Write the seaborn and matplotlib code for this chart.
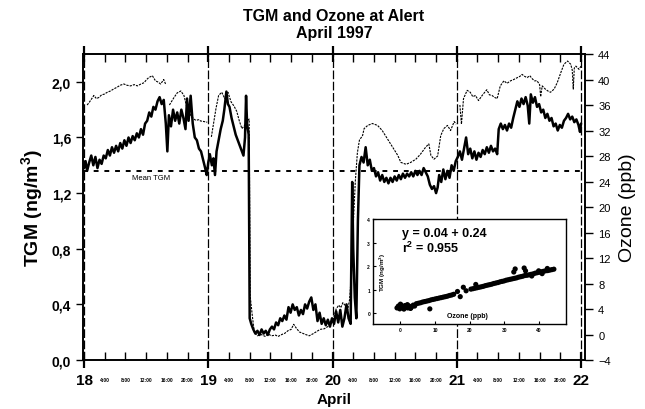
import numpy as np
import pandas as pd
import matplotlib
matplotlib.use("Agg")
import matplotlib.pyplot as plt
import seaborn as sns

# -------------------------------
# Data
# hours after 18 April 00:00
# -------------------------------
tgm_hours = [
    0.0, 0.3, 0.6, 1.0, 1.4, 1.8, 2.2, 2.6, 3.0, 3.4, 3.8, 4.2, 4.6, 5.0, 5.4, 5.8,
    6.2, 6.6, 7.0, 7.4, 7.8, 8.2, 8.6, 9.0, 9.4, 9.8, 10.2, 10.6, 11.0, 11.4, 11.8,
    12.2, 12.6, 13.0, 13.4, 13.8, 14.2, 14.6, 15.0, 15.4, 15.8, 16.1, 16.4, 16.8,
    17.2, 17.6, 18.0, 18.4, 18.8, 19.2, 19.6, 19.9, 20.2, 20.6, 21.0, 21.4, 21.8,
    22.2, 22.6, 23.0, 23.4, 23.7, 24.0, 24.3, 24.7, 25.0, 25.3, 25.6, 26.0, 26.4,
    26.8, 27.1, 27.5, 27.8, 28.1, 28.5, 28.9, 29.3, 29.7, 30.1, 30.5, 30.8, 31.1,
    31.3, 31.5, 31.8, 32.0, 32.3, 32.7, 33.1, 33.5, 33.9, 34.3, 34.7, 35.1, 35.5,
    35.9, 36.3, 36.7, 37.1, 37.5, 37.9, 38.3, 38.7, 39.1, 39.5, 39.9, 40.3, 40.7,
    41.1, 41.5, 41.9, 42.3, 42.7, 43.1, 43.5, 43.9, 44.3, 44.7, 45.1, 45.5, 45.9,
    46.3, 46.7, 47.1, 47.5, 47.9, 48.3, 48.7, 49.1, 49.5, 49.9, 50.3, 50.7, 51.1,
    51.5, 51.8, 52.0, 52.3, 52.6, 52.9, 53.2, 53.6, 54.0, 54.4, 54.8, 55.2, 55.6,
    56.0, 56.4, 56.8, 57.2, 57.6, 58.0, 58.4, 58.8, 59.2, 59.6, 60.0, 60.4, 60.8,
    61.2, 61.6, 62.0, 62.4, 62.8, 63.2, 63.6, 64.0, 64.4, 64.8, 65.2, 65.6, 66.0,
    66.4, 66.8, 67.2, 67.6, 68.0, 68.3, 68.6, 69.0, 69.4, 69.8, 70.2, 70.6, 71.0,
    71.4, 71.8, 72.2, 72.6, 73.0, 73.4, 73.8, 74.2, 74.6, 75.0, 75.4, 75.8, 76.2,
    76.6, 77.0, 77.4, 77.8, 78.2, 78.6, 79.0, 79.4, 79.8, 80.1, 80.5, 80.9, 81.3,
    81.7, 82.1, 82.5, 82.9, 83.3, 83.7, 84.1, 84.5, 84.9, 85.3, 85.7, 86.0, 86.3,
    86.7, 87.1, 87.5, 87.9, 88.3, 88.7, 89.1, 89.5, 89.9, 90.3, 90.7, 91.1, 91.5,
    91.9, 92.3, 92.7, 93.1, 93.5, 93.9, 94.3, 94.7, 95.1, 95.5, 95.8, 96.0,
]
tgm_values = [
    1.38, 1.43, 1.36, 1.42, 1.47, 1.40, 1.46, 1.38, 1.44, 1.41, 1.47, 1.45, 1.51, 1.47, 1.53, 1.49,
    1.54, 1.50, 1.56, 1.52, 1.58, 1.54, 1.60, 1.56, 1.61, 1.58, 1.63, 1.60, 1.66, 1.62, 1.70,
    1.72, 1.78, 1.75, 1.82, 1.80, 1.86, 1.89, 1.84, 1.87, 1.70, 1.50, 1.76, 1.68,
    1.80, 1.72, 1.78, 1.70, 1.80, 1.74, 1.66, 1.88, 1.72, 1.90, 1.70, 1.60, 1.58,
    1.52, 1.50, 1.44, 1.38, 1.33, 1.42, 1.48, 1.40, 1.45, 1.33, 1.50, 1.58, 1.66,
    1.72, 1.80, 1.93, 1.84, 1.82, 1.74, 1.68, 1.62, 1.58, 1.54, 1.50, 1.47, 1.60,
    1.90, 1.70, 1.62, 0.30, 0.26, 0.22, 0.19, 0.21, 0.18, 0.22, 0.19, 0.21, 0.18,
    0.22, 0.24, 0.22, 0.27, 0.25, 0.30, 0.28, 0.32, 0.29, 0.38, 0.34, 0.40, 0.36,
    0.38, 0.32, 0.36, 0.33, 0.40, 0.37, 0.42, 0.45, 0.36, 0.40, 0.28, 0.34, 0.26,
    0.30, 0.25, 0.29, 0.24, 0.30, 0.26, 0.35, 0.27, 0.36, 0.24, 0.30, 0.40, 0.30,
    0.26, 1.28, 0.80, 0.45, 0.30, 1.00, 1.40, 1.46, 1.42, 1.53, 1.40, 1.44, 1.36,
    1.38, 1.32, 1.35, 1.29, 1.33, 1.28, 1.31, 1.27, 1.31, 1.28, 1.32, 1.29, 1.33,
    1.30, 1.34, 1.31, 1.34, 1.32, 1.35, 1.32, 1.36, 1.33, 1.36, 1.33, 1.38, 1.35,
    1.32, 1.26, 1.23, 1.25, 1.20, 1.24, 1.33, 1.28, 1.37, 1.30, 1.36, 1.31, 1.40,
    1.36, 1.43, 1.46, 1.50, 1.44, 1.52, 1.60, 1.48, 1.52, 1.45, 1.50, 1.44, 1.49,
    1.46, 1.51, 1.48, 1.53, 1.49, 1.54, 1.50, 1.52, 1.48, 1.66, 1.70, 1.66, 1.69,
    1.65, 1.70, 1.67, 1.74, 1.80, 1.86, 1.82, 1.88, 1.84, 1.89, 1.83, 1.70, 1.91,
    1.85, 1.89, 1.82, 1.84, 1.78, 1.80, 1.74, 1.77, 1.72, 1.74, 1.68, 1.70, 1.65,
    1.69, 1.67, 1.72, 1.74, 1.77, 1.73, 1.75, 1.71, 1.73, 1.69, 1.64, 1.70,
]

nan = float("nan")
ozone_hours = [
    0.6, 1.0, 1.5, 1.9, 2.4, 2.9, 3.4, 3.9, 4.5, 5.1, 5.7, 6.4, 7.0, 7.7, 8.3, 9.0,
    9.7, 10.3, 11.0, 11.6, 12.1, 12.5, 13.2, 13.8, 14.3, 14.8, 15.4, 15.8, 16.1,
    16.5, 16.8, 17.4, 18.0, 18.7, 19.3, 19.9, 20.6, 21.2, 21.6, 22.2, 22.5, 23.2,
    23.8, 24.1, 24.6, 25.0, 25.5, 26.0, 26.6, 27.2, 27.8, 28.4, 29.0, 29.5, 30.0,
    30.5, 31.0, 31.5, 31.9, 32.1, 32.5, 32.9, 33.5, 34.2, 35.0, 35.5, 36.2, 37.0,
    37.5, 38.2, 38.8, 39.4, 40.0, 40.5, 41.0, 41.6, 42.2, 42.8, 43.5, 44.2, 45.0,
    45.6, 46.4, 47.0, 47.6, 48.2, 48.7, 49.2, 49.6, 50.0, 50.4, 50.9, 51.3, 51.7,
    52.0, 52.4, 52.8, 53.2, 53.8, 54.1, 54.8, 55.7, 56.7, 57.6, 58.6, 59.6, 60.6,
    61.2, 62.2, 63.1, 64.1, 65.0, 66.0, 66.6, 67.0, 67.6, 68.3, 68.9, 69.5, 70.2,
    70.8, 71.5, 71.9, 72.2, 72.6, 72.9, 73.3, 74.0, 74.6, 75.1, 75.6, 76.2, 76.9,
    77.3, 77.8, 78.3, 78.8, 79.3, 79.8, 80.4, 81.1, 81.7, 82.4, 83.0, 83.7, 84.2,
    84.6, 85.1, 85.6, 86.1, 86.6, 87.0, 87.5, 88.0, 88.2, 88.5, 89.1, 89.6, 90.1,
    90.8, 91.4, 92.1, 92.7, 93.4, 94.0, 94.3, 94.5, 94.7, 95.0, 95.6, 96.0,
]
ozone_values = [
    36.0, 36.4, 37.0, 37.5, 37.0, 37.2, 37.6, 37.7, 38.0, 38.2, 38.5, 38.8, 39.1, 39.3, 39.1, 39.0,
    39.2, 39.0, 39.3, 39.5, 40.0, 40.3, 40.6, 39.8, 39.6, 39.3, 40.0, 39.2, nan,
    36.0, 36.4, 37.2, 37.9, 38.2, 37.5, 35.5, 34.4, 33.8, 33.6, 33.7, 33.5, 33.4,
    33.3, nan, 31.0, 33.0, 35.5, 37.5, 38.0, 37.0, 38.0, 36.5, 35.8, 35.0, 33.5,
    32.3, 32.8, 33.5, 33.8, 6.0, 3.0, 0.3, -0.2, 0.0, -0.3, 0.1, -0.2, -0.1,
    -0.3, 0.0, 0.2, 0.6, 0.8, 1.6, 1.0, 0.4, 0.2, 0.0, -0.2, 0.1, 0.5,
    0.8, 0.9, 1.2, 1.5, 2.5, 4.0, 4.6, 4.2, 5.0, 4.6, 3.8, 5.5, 10.0,
    17.0, 24.0, 28.5, 30.5, 31.2, 32.3, 32.8, 33.1, 32.8, 32.0, 30.7, 29.4, 28.1,
    27.0, 26.7, 27.0, 27.5, 28.3, 29.4, 29.9, 28.1, 27.5, 28.0, 31.2, 32.3, 32.8,
    32.0, 33.4, 33.0, nan, 36.0, 33.0, 37.0, 38.3, 38.0, 37.3, 37.5, 36.7, 37.5,
    37.9, 38.4, 37.6, 37.5, 37.2, 37.0, 39.0, 39.8, 39.4, 39.8, 40.0, 40.3, 40.5,
    40.8, 40.5, 40.3, 40.6, 40.1, 39.8, 39.8, 39.2, 37.3, 39.0, 38.5, 38.2, 38.0,
    38.5, 39.5, 41.1, 42.4, 42.9, 42.4, 41.5, 38.5, 41.8, 42.1, 41.6, 42.1,
]

# inset: TGM against ozone
inset_ozone = [
    -1.0, -0.6, -0.2, 0.2, 0.5, 0.9, 1.3, 1.7, 2.1, 2.5, 2.9, 3.3, 3.7, 4.1, 0.0, 1.0, 2.0, 3.0,
    4.6, 5.2, 5.8, 6.4, 7.0, 7.6, 8.2, 8.8, 9.4, 10.0, 10.6, 11.2, 11.8, 12.4, 13.0,
    13.6, 14.2, 14.8, 15.4, 16.5, 17.3, 18.2, 19.0, 8.5, 21.8, 20.4, 21.0, 21.6, 22.2, 22.8,
    23.4, 24.0, 24.6, 25.2, 25.8, 26.4, 27.0, 27.6, 28.2, 28.8, 29.4, 30.0, 30.6,
    31.2, 31.8, 32.4, 33.0, 33.6, 34.2, 34.8, 35.4, 36.0, 36.6, 37.2, 37.8, 38.4,
    39.0, 39.6, 40.2, 40.8, 41.4, 42.0, 42.6, 43.2, 43.8, 44.4, 32.8, 33.2, 35.8, 36.2,
    38.0, 40.0, 41.0, 42.5,
]
inset_tgm = [
    0.22, 0.30, 0.18, 0.34, 0.24, 0.20, 0.32, 0.26, 0.22, 0.30, 0.20, 0.28, 0.34, 0.30, 0.38, 0.17, 0.36, 0.22,
    0.40, 0.42, 0.44, 0.47, 0.49, 0.51, 0.53, 0.56, 0.58, 0.60, 0.62, 0.64, 0.66, 0.68, 0.70,
    0.72, 0.75, 0.77, 0.80, 0.92, 0.70, 1.10, 0.95, 0.18, 1.22, 1.02, 1.04, 1.06, 1.08, 1.10,
    1.12, 1.14, 1.17, 1.19, 1.21, 1.23, 1.26, 1.28, 1.30, 1.33, 1.35, 1.37, 1.40,
    1.42, 1.44, 1.46, 1.48, 1.50, 1.53, 1.55, 1.57, 1.60, 1.61, 1.63, 1.65, 1.67,
    1.70, 1.72, 1.74, 1.76, 1.78, 1.80, 1.81, 1.83, 1.85, 1.87, 1.75, 1.88, 1.92, 1.80,
    1.58, 1.80, 1.68, 1.90,
]

day_ticks = [18, 19, 20, 21, 22]
hour_ticks = [4, 8, 12, 16, 20]
hour_labels = ["4:00", "8:00", "12:00", "16:00", "20:00"]
tgm_ticks = [0.0, 0.4, 0.8, 1.2, 1.6, 2.0]
tgm_labels = ["0,0", "0,4", "0,8", "1,2", "1,6", "2,0"]
ozone_ticks = [-4, 0, 4, 8, 12, 16, 20, 24, 28, 32, 36, 40, 44]
inset_xticks = [0, 10, 20, 30, 40]
inset_yticks = [0, 1, 2, 3, 4]
mean_tgm = 1.36

# -------------------------------
# Prepare tables
# -------------------------------
tgm_df = pd.DataFrame({"day": 18 + np.array(tgm_hours) / 24, "tgm": tgm_values})
ozone_df = pd.DataFrame({"day": 18 + np.array(ozone_hours) / 24, "ozone": ozone_values})
ozone_df["seg"] = ozone_df["ozone"].isna().cumsum()
ozone_df = ozone_df.dropna()
inset_df = pd.DataFrame({"ozone": inset_ozone, "tgm": inset_tgm})

# -------------------------------
# Plot
# -------------------------------
sns.set_style("ticks")
plt.rcParams["font.family"] = ["Liberation Sans", "DejaVu Sans"]
plt.rcParams["mathtext.fontset"] = "custom"
plt.rcParams["mathtext.rm"] = "Liberation Sans"
plt.rcParams["mathtext.bf"] = "Liberation Sans:bold"
plt.rcParams["axes.linewidth"] = 1.2
for key in ["text.color", "axes.labelcolor", "axes.edgecolor", "xtick.color", "ytick.color"]:
    plt.rcParams[key] = "black"

fig = plt.figure(figsize=(6.45, 4.10), dpi=100)
ax = fig.add_axes([0.1287, 0.1195, 0.7783, 0.7463])
ax2 = ax.twinx()

sns.lineplot(data=ozone_df, x="day", y="ozone", units="seg", estimator=None, sort=False,
             color="black", linewidth=0.8, linestyle=(0, (2, 1)), ax=ax2)
sns.lineplot(data=tgm_df, x="day", y="tgm", estimator=None, sort=False,
             color="black", linewidth=1.8, ax=ax)

for d in day_ticks:
    ax.axvline(d, color="black", linewidth=0.9, linestyle=(0, (7, 2)))
ax.axhline(mean_tgm, color="black", linewidth=1.4, linestyle=(0, (2.5, 3)))
ax.text(18.54, mean_tgm - 0.02, "Mean TGM", fontsize=5.5, ha="center", va="top")

ax.set_xlim(17.992, 22.032)
ax.set_ylim(0, 2.2)
ax2.set_ylim(-4, 44)

ax.set_xticks(day_ticks)
ax.set_xticklabels([str(d) for d in day_ticks], fontweight="bold")
minor_pos = [d + h / 24 for d in day_ticks[:-1] for h in hour_ticks]
ax.set_xticks(minor_pos, minor=True)
ax.set_xticklabels(hour_labels * 4, minor=True, fontweight="bold")
ax.tick_params(axis="x", which="major", direction="inout", length=12, width=1.6,
               labelsize=11, pad=3, top=True)
ax.tick_params(axis="x", which="minor", direction="in", length=6, width=1,
               labelsize=3.5, pad=12, top=True)

ax.set_yticks(tgm_ticks)
ax.set_yticklabels(tgm_labels, fontweight="bold")
ax.tick_params(axis="y", direction="out", length=5, width=1, labelsize=10)
ax2.set_yticks(ozone_ticks)
ax2.tick_params(axis="y", direction="out", length=6, width=1, labelsize=8)

ax.set_xlabel("April", fontsize=11, fontweight="bold", labelpad=4)
ax.set_ylabel(r"TGM (ng/m$^{\mathbf{3}}$)", fontsize=14, fontweight="bold", labelpad=4)
ax2.set_ylabel("Ozone (ppb)", fontsize=14, labelpad=6)
ax.set_title("TGM and Ozone at Alert\nApril 1997", fontsize=11.5, fontweight="bold", pad=12)

# inset scatter
axi = fig.add_axes([0.578, 0.207, 0.30, 0.256])
sns.scatterplot(data=inset_df, x="ozone", y="tgm", color="black", s=14,
                edgecolor="none", ax=axi)
axi.set_xlim(-8, 48)
axi.set_ylim(-0.47, 4.0)
axi.set_xticks(inset_xticks)
axi.set_yticks(inset_yticks)
axi.tick_params(direction="in", length=2, width=0.8, labelsize=3.5, pad=2)
for lab in axi.get_xticklabels() + axi.get_yticklabels():
    lab.set_fontweight("bold")
axi.set_xlabel("")
axi.set_ylabel("")
axi.text(0.49, 0.05, "Ozone (ppb)", transform=axi.transAxes, fontsize=5,
         fontweight="bold", ha="center", va="bottom")
axi.text(0.05, 0.5, r"TGM (ng/m$^{\mathbf{3}}$)", transform=axi.transAxes, fontsize=4.5,
         fontweight="bold", rotation=90, ha="center", va="center")
axi.text(0.15, 0.93, "y = 0.04 + 0.24\n" + r"r$^{\mathbf{2}}$ = 0.955", transform=axi.transAxes,
         fontsize=9, fontweight="bold", ha="left", va="top", linespacing=1.1)
for s in axi.spines.values():
    s.set_linewidth(1.0)

fig.savefig("out.png", dpi=100)
